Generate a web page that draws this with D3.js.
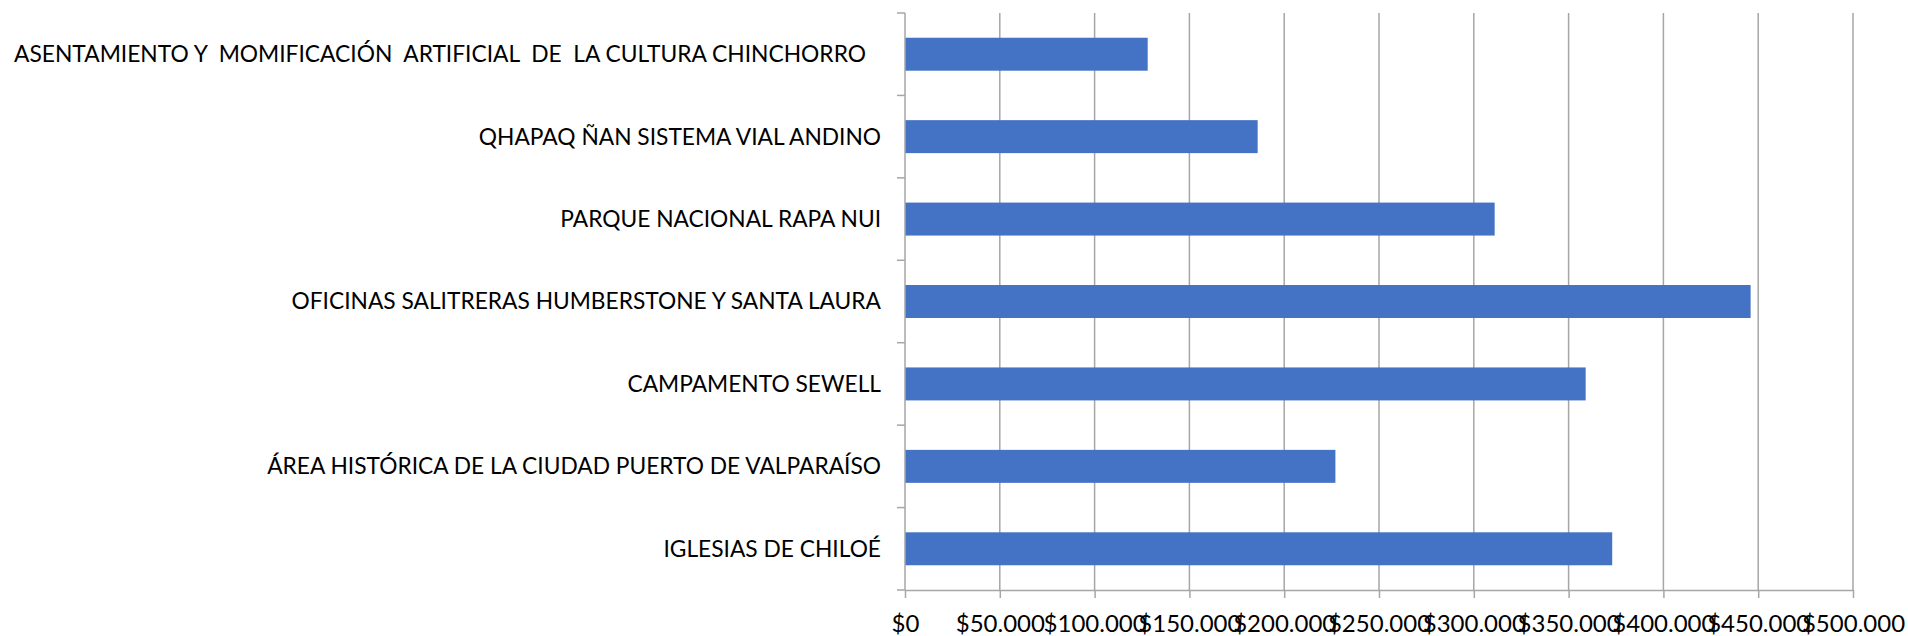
<!DOCTYPE html>
<html>
<head>
<meta charset="utf-8">
<script src="https://cdn.jsdelivr.net/npm/d3@7"></script>
<style>
  html, body { margin: 0; padding: 0; background: #fff; }
  svg { display: block; }
  text { font-family: Lato, "Open Sans", sans-serif; fill: #000; }
</style>
</head>
<body>
<svg id="chart"></svg>
<script>
// categories top to bottom, as shown in the chart
const categories = [
  'ASENTAMIENTO Y  MOMIFICACIÓN  ARTIFICIAL  DE  LA CULTURA CHINCHORRO',
  'QHAPAQ ÑAN SISTEMA VIAL ANDINO',
  'PARQUE NACIONAL RAPA NUI',
  'OFICINAS SALITRERAS HUMBERSTONE Y SANTA LAURA',
  'CAMPAMENTO SEWELL',
  'ÁREA HISTÓRICA DE LA CIUDAD PUERTO DE VALPARAÍSO',
  'IGLESIAS DE CHILOÉ'
];
const values = [128000, 186000, 311000, 446000, 359000, 227000, 373000];
const tickValues = [0, 50000, 100000, 150000, 200000, 250000, 300000, 350000, 400000, 450000, 500000];

const W = 1908, H = 636;
const margin = { left: 905, top: 13, right: 55, bottom: 46 };
const innerW = W - margin.left - margin.right;
const innerH = H - margin.top - margin.bottom;

const svg = d3.select('#chart').attr('width', W).attr('height', H);
const g = svg.append('g').attr('transform', `translate(${margin.left},${margin.top})`);

const x = d3.scaleLinear().domain([0, 500000]).range([0, innerW]);
const y = d3.scaleBand().domain(categories).range([0, innerH]).paddingInner(0.6).paddingOuter(0.3);

const fmt = d => '$' + d3.format(',')(d).replace(/,/g, '.');
const gridColor = '#a6a6a6';

// vertical gridlines
g.selectAll('line.grid').data(tickValues.slice(1)).enter().append('line')
  .attr('class', 'grid')
  .attr('x1', d => x(d)).attr('x2', d => x(d))
  .attr('y1', 0).attr('y2', innerH)
  .attr('stroke', gridColor).attr('stroke-width', 1.5);

// bars
g.selectAll('rect.bar').data(values).enter().append('rect')
  .attr('class', 'bar')
  .attr('x', x(0))
  .attr('y', (d, i) => y(categories[i]))
  .attr('width', d => x(d) - x(0))
  .attr('height', y.bandwidth())
  .attr('fill', '#4472c4');

// bottom axis
const xAxis = g.append('g').attr('transform', `translate(0,${innerH})`)
  .call(d3.axisBottom(x).tickValues(tickValues).tickFormat(fmt).tickSize(8).tickSizeOuter(0).tickPadding(17));
xAxis.select('.domain').attr('stroke', gridColor).attr('stroke-width', 1.5);
xAxis.selectAll('.tick line').attr('stroke', gridColor).attr('stroke-width', 1.5);
xAxis.selectAll('.tick text').attr('font-size', 24).style('font-family', 'Lato, sans-serif').attr('fill', '#000');

// left axis line with ticks at category boundaries
const bounds = d3.range(categories.length + 1).map(i => i * innerH / categories.length);
g.append('line').attr('x1', 0).attr('x2', 0).attr('y1', 0).attr('y2', innerH)
  .attr('stroke', gridColor).attr('stroke-width', 1.5);
g.selectAll('line.ytick').data(bounds).enter().append('line')
  .attr('class', 'ytick')
  .attr('x1', -8).attr('x2', 0)
  .attr('y1', d => d).attr('y2', d => d)
  .attr('stroke', gridColor).attr('stroke-width', 1.5);

// category labels
const labels = g.selectAll('text.cat').data(categories).enter().append('text')
  .attr('class', 'cat')
  .attr('x', -24)
  .attr('y', d => y(d) + y.bandwidth() / 2)
  .attr('dy', '0.35em')
  .attr('text-anchor', 'end')
  .attr('font-size', 20)
  .style('white-space', 'pre')
  .text(d => d);

// fit the font size so the longest regular label matches the reference width
const ref = labels.filter((d, i) => i === 5);
const refW = ref.node().getComputedTextLength();
const fs = 20 * 614 / refW;
labels.attr('font-size', fs);
// first label is drawn condensed in the original
labels.filter((d, i) => i === 0)
  .attr('x', 866 - margin.left)
  .attr('textLength', 866 - 14)
  .attr('lengthAdjust', 'spacingAndGlyphs');
</script>
</body>
</html>
